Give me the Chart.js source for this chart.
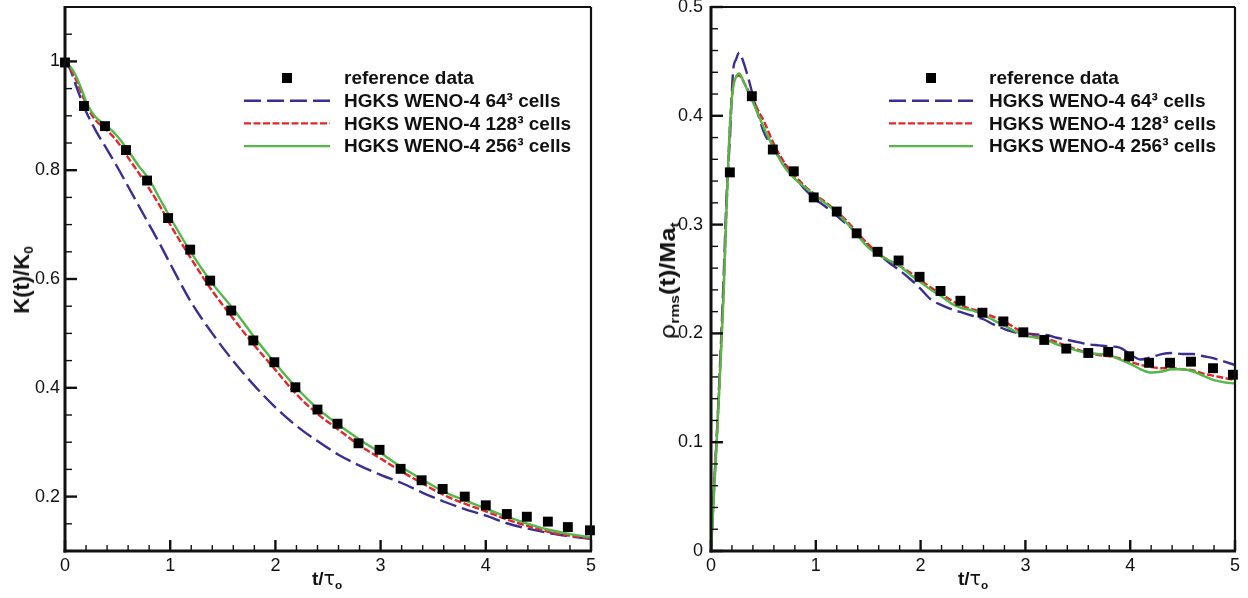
<!DOCTYPE html>
<html>
<head>
<meta charset="utf-8">
<script src="https://cdn.jsdelivr.net/npm/chart.js@4.4.1/dist/chart.umd.min.js"></script>
<style>
  html, body { margin: 0; padding: 0; background: #fff; }
  #wrap { position: relative; width: 1248px; height: 598px; overflow: hidden; font-family: "Liberation Sans", Arial, Helvetica, sans-serif; color: #111; }
  .pane { position: absolute; top: 0; width: 624px; height: 598px; }
  .t { position: absolute; font-weight: bold; line-height: 1; white-space: nowrap; color: #111; }
  .t sub { font-size: 0.62em; vertical-align: -0.3em; line-height: 0; }
  .t .g { font-weight: normal; font-family: "DejaVu Sans", "Liberation Sans", sans-serif; }
  .xt { top: 569px; font-size: 19px; transform: translateX(-50%); }
  .yt { font-size: 22px; }
</style>
</head>
<body>
<div id="wrap">
  <div class="pane" style="left:0"><canvas id="c1"></canvas></div>
  <div class="pane" style="left:624px"><canvas id="c2"></canvas></div>
  <div class="t xt" style="left:327px">t/<span class="g">τ</span><sub>o</sub></div>
  <div class="t xt" style="left:973px">t/<span class="g">τ</span><sub>o</sub></div>
  <div class="t yt" style="left:22px; top:280px; transform: translate(-50%, -50%) rotate(-90deg);">K(t)/K<sub>0</sub></div>
  <div class="t yt" style="left:668px; top:281px; transform: translate(-50%, -50%) rotate(-90deg) scaleX(1.15);"><span class="g">ρ</span><sub>rms</sub>(t)/Ma<sub>t</sub></div>
</div>
<script>
// ---------- data ----------
const seriesLabels = ['reference data', 'HGKS WENO-4 64\u00B3 cells', 'HGKS WENO-4 128\u00B3 cells', 'HGKS WENO-4 256\u00B3 cells'];

// Left panel: K(t)/K0
const leftT = [0,0.05,0.1,0.15,0.2,0.25,0.3,0.4,0.5,0.6,0.7,0.8,0.9,1.0,1.2,1.4,1.6,1.8,2.0,2.2,2.4,2.6,2.8,3.0,3.2,3.4,3.6,3.8,4.0,4.2,4.4,4.6,4.8,5.0];
const K64  = [1.0,0.985,0.958,0.932,0.908,0.888,0.870,0.838,0.805,0.770,0.735,0.700,0.665,0.628,0.557,0.500,0.449,0.404,0.364,0.330,0.302,0.277,0.257,0.240,0.225,0.207,0.191,0.177,0.165,0.151,0.141,0.133,0.127,0.122];
const K128 = [1.0,0.987,0.968,0.945,0.922,0.903,0.890,0.873,0.852,0.823,0.795,0.766,0.735,0.700,0.637,0.578,0.527,0.478,0.433,0.388,0.352,0.323,0.294,0.270,0.246,0.224,0.203,0.187,0.173,0.158,0.146,0.135,0.128,0.123];
const K256 = [1.0,0.990,0.975,0.952,0.927,0.908,0.896,0.881,0.862,0.836,0.808,0.783,0.748,0.713,0.648,0.592,0.545,0.493,0.445,0.400,0.362,0.332,0.305,0.280,0.254,0.231,0.209,0.193,0.178,0.163,0.150,0.139,0.131,0.125];
const refKT = [0,0.18,0.38,0.58,0.78,0.98,1.19,1.38,1.58,1.79,1.99,2.19,2.4,2.59,2.79,2.99,3.19,3.39,3.59,3.8,4.0,4.2,4.39,4.59,4.78,4.99];
const refK  = [0.998,0.918,0.881,0.837,0.781,0.712,0.654,0.597,0.542,0.487,0.447,0.401,0.360,0.334,0.298,0.286,0.251,0.230,0.214,0.200,0.184,0.168,0.163,0.154,0.144,0.138];

// Right panel: rho_rms(t)/Ma_t
const rightT = [0,0.03,0.06,0.09,0.12,0.15,0.18,0.21,0.24,0.27,0.30,0.34,0.38,0.42,0.46,0.5,
  0.6,0.7,0.8,0.9,1.0,1.1,1.2,1.3,1.4,1.5,1.6,1.7,1.8,1.9,2.0,2.1,2.2,2.3,2.4,2.5,2.6,2.7,2.8,2.9,3.0,
  3.1,3.2,3.3,3.4,3.5,3.6,3.7,3.8,3.9,4.0,4.1,4.2,4.3,4.4,4.5,4.6,4.7,4.8,4.9,5.0];
const R64  = [0,0.06,0.115,0.18,0.25,0.33,0.378,0.44,0.452,0.458,0.452,0.44,0.426,0.411,0.398,0.386,
  0.369,0.356,0.344,0.332,0.323,0.316,0.308,0.300,0.291,0.281,0.273,0.265,0.258,0.250,0.241,0.231,0.226,0.222,0.219,0.216,0.213,0.208,0.204,0.201,0.200,
  0.199,0.1985,0.196,0.194,0.192,0.190,0.189,0.188,0.187,0.181,0.176,0.178,0.181,0.182,0.181,0.181,0.179,0.177,0.174,0.171];
const R128 = [0,0.06,0.115,0.175,0.24,0.32,0.39,0.427,0.436,0.437,0.433,0.426,0.419,0.411,0.403,0.396,
  0.374,0.357,0.345,0.335,0.327,0.320,0.312,0.303,0.292,0.282,0.273,0.267,0.262,0.256,0.249,0.242,0.236,0.230,0.225,0.222,0.219,0.215,0.211,0.205,0.200,
  0.197,0.195,0.192,0.188,0.185,0.182,0.180,0.179,0.177,0.174,0.171,0.169,0.168,0.168,0.167,0.166,0.163,0.161,0.159,0.157];
const R256 = [0,0.055,0.11,0.17,0.235,0.32,0.39,0.425,0.436,0.439,0.434,0.425,0.417,0.408,0.399,0.390,
  0.370,0.353,0.342,0.334,0.326,0.319,0.311,0.301,0.290,0.279,0.272,0.267,0.262,0.254,0.247,0.240,0.234,0.227,0.223,0.221,0.217,0.212,0.207,0.202,0.198,
  0.196,0.194,0.190,0.187,0.184,0.182,0.181,0.180,0.176,0.172,0.167,0.164,0.165,0.167,0.167,0.165,0.161,0.157,0.155,0.154];
const refRT = [0.18,0.39,0.59,0.79,0.98,1.2,1.39,1.59,1.79,1.99,2.19,2.38,2.59,2.79,2.98,3.18,3.39,3.6,3.79,3.99,4.18,4.38,4.58,4.79,4.98];
const refR  = [0.348,0.418,0.369,0.349,0.325,0.312,0.292,0.275,0.267,0.252,0.239,0.230,0.219,0.211,0.201,0.194,0.186,0.182,0.183,0.179,0.173,0.173,0.174,0.168,0.162];

// tick labels
const xTickVals = [0,1,2,3,4,5];
const leftYTickVals = [0.2,0.4,0.6,0.8,1];
const rightYTickVals = [0,0.1,0.2,0.3,0.4,0.5];

// ---------- helpers ----------
const pts = (xs, ys) => xs.map((x, i) => ({x, y: ys[i]}));
const FONT = "'Liberation Sans', Arial, Helvetica, sans-serif";
const COL = { ref: '#000000', c64: '#3b2e91', c128: '#e3262c', c256: '#52b848' };
const DASH64 = [17, 6], DASH128 = [7, 2.5];

function makeDatasets(refX, refY, t, a, b, c) {
  return [
    { label: seriesLabels[0], data: pts(refX, refY), showLine: false, pointStyle: 'rect', pointRadius: 7, pointHoverRadius: 7,
      pointBackgroundColor: COL.ref, pointBorderWidth: 0, borderColor: COL.ref, backgroundColor: COL.ref, clip: false, order: 0 },
    { label: seriesLabels[1], data: pts(t, a), showLine: true, pointRadius: 0, borderColor: COL.c64, borderWidth: 2.4,
      borderDash: DASH64, cubicInterpolationMode: 'monotone', order: 3 },
    { label: seriesLabels[2], data: pts(t, b), showLine: true, pointRadius: 0, borderColor: COL.c128, borderWidth: 2.4,
      borderDash: DASH128, cubicInterpolationMode: 'monotone', order: 2 },
    { label: seriesLabels[3], data: pts(t, c), showLine: true, pointRadius: 0, borderColor: COL.c256, borderWidth: 2.4,
      cubicInterpolationMode: 'monotone', order: 1 }
  ];
}

const fmt = v => String(Math.round(v * 100) / 100);

// frame, inward major/minor ticks (from the chart's own scales) and the in-plot legend
function framePlugin(tk, lg) {
  return {
    id: 'frameTicks',
    afterDraw(chart) {
      const ctx = chart.ctx, a = chart.chartArea, sx = chart.scales.x, sy = chart.scales.y;
      ctx.save();
      ctx.globalAlpha = 1;
      ctx.globalCompositeOperation = 'source-over';
      ctx.strokeStyle = '#111';
      ctx.lineCap = 'butt';
      ctx.setLineDash([]);
      const seg = (x1, y1, x2, y2, w) => { ctx.lineWidth = w; ctx.beginPath(); ctx.moveTo(x1, y1); ctx.lineTo(x2, y2); ctx.stroke(); };
      const nx = Math.round((tk.xMax - tk.xMin) / tk.xMinor);
      for (let i = 0; i <= nx; i++) {
        const v = tk.xMin + i * tk.xMinor;
        const r = v / tk.xMajor;
        const major = Math.abs(r - Math.round(r)) < 1e-4;
        const px = sx.getPixelForValue(v);
        seg(px, a.bottom, px, a.bottom - (major ? 11 : 6), major ? 2.4 : 1.4);
      }
      const ny = Math.round((tk.yMax - tk.yMin) / tk.yMinor);
      for (let i = 0; i <= ny; i++) {
        const v = tk.yMin + i * tk.yMinor;
        const r = v / tk.yMajor;
        const major = Math.abs(r - Math.round(r)) < 1e-4;
        const py = sy.getPixelForValue(v);
        seg(a.left, py, a.left + (major ? 12 : 7), py, major ? 2.4 : 1.4);
      }
      seg(a.left, a.top, a.right, a.top, 2.2);
      seg(a.right, a.top, a.right, a.bottom, 2.2);
      seg(a.left, a.top - 1, a.left, a.bottom + 1.5, 3);
      seg(a.left - 1.5, a.bottom, a.right + 1, a.bottom, 3);

      // legend built from the datasets
      ctx.font = 'bold 19px ' + FONT;
      ctx.textBaseline = 'middle';
      ctx.textAlign = 'left';
      chart.data.datasets.forEach((d, i) => {
        const yy = lg.y0 + i * lg.dy;
        if (d.showLine) {
          ctx.strokeStyle = d.borderColor;
          ctx.setLineDash(d.borderDash || []);
          seg(lg.x0, yy, lg.x1, yy, d.borderWidth);
        } else {
          ctx.fillStyle = d.pointBackgroundColor;
          const cx = (lg.x0 + lg.x1) / 2;
          ctx.fillRect(cx - 5, yy - 5, 10, 10);
        }
        ctx.setLineDash([]);
        ctx.fillStyle = '#111';
        ctx.fillText(d.label, lg.tx, yy + 1);
      });
      ctx.restore();
    }
  };
}

function makeChart(id, datasets, cfg) {
  return new Chart(document.getElementById(id), {
    type: 'scatter',
    data: { datasets },
    plugins: [framePlugin(cfg.ticks, cfg.legend)],
    options: {
      responsive: true,
      maintainAspectRatio: false,
      animation: false,
      events: [],
      layout: { padding: { left: 0, top: 7, right: cfg.padRight, bottom: 0 } },
      scales: {
        x: {
          type: 'linear', min: 0, max: 5,
          grid: { display: false, drawTicks: false },
          border: { display: false },
          afterBuildTicks: s => { s.ticks = xTickVals.map(v => ({value: v})); },
          afterFit: s => { s.height = 47; s.paddingLeft = 0; s.paddingRight = 0; s.paddingTop = 0; s.paddingBottom = 0; },
          ticks: { padding: 4, color: '#111', font: { family: FONT, size: 18 }, callback: fmt, maxRotation: 0, autoSkip: false }
        },
        y: {
          type: 'linear', min: cfg.yMin, max: cfg.yMax,
          grid: { display: false, drawTicks: false },
          border: { display: false },
          afterBuildTicks: s => { s.ticks = cfg.yTicks.map(v => ({value: v})); },
          afterFit: s => { s.width = cfg.yWidth; s.paddingLeft = 0; s.paddingRight = 0; s.paddingTop = 0; s.paddingBottom = 0; },
          ticks: { padding: cfg.yPad, color: '#111', font: { family: FONT, size: 18 }, callback: fmt, autoSkip: false }
        }
      },
      plugins: {
        tooltip: { enabled: false },
        legend: { display: false }
      }
    }
  });
}

makeChart('c1', makeDatasets(refKT, refK, leftT, K64, K128, K256), {
  padRight: 33, yWidth: 65, yPad: 5, yMin: 0.1, yMax: 1.1, yTicks: leftYTickVals,
  ticks: { xMin: 0, xMax: 5, xMinor: 0.2, xMajor: 1, yMin: 0.1, yMax: 1.1, yMinor: 0.05, yMajor: 0.2 },
  legend: { x0: 244, x1: 330, tx: 344, y0: 78, dy: 22.7 }
});

makeChart('c2', makeDatasets(refRT, refR, rightT, R64, R128, R256), {
  padRight: 13, yWidth: 87, yPad: 8, yMin: 0, yMax: 0.5, yTicks: rightYTickVals,
  ticks: { xMin: 0, xMax: 5, xMinor: 0.2, xMajor: 1, yMin: 0, yMax: 0.5, yMinor: 0.02, yMajor: 0.1 },
  legend: { x0: 265, x1: 349, tx: 365, y0: 78, dy: 22.7 }
});
</script>
</body>
</html>
